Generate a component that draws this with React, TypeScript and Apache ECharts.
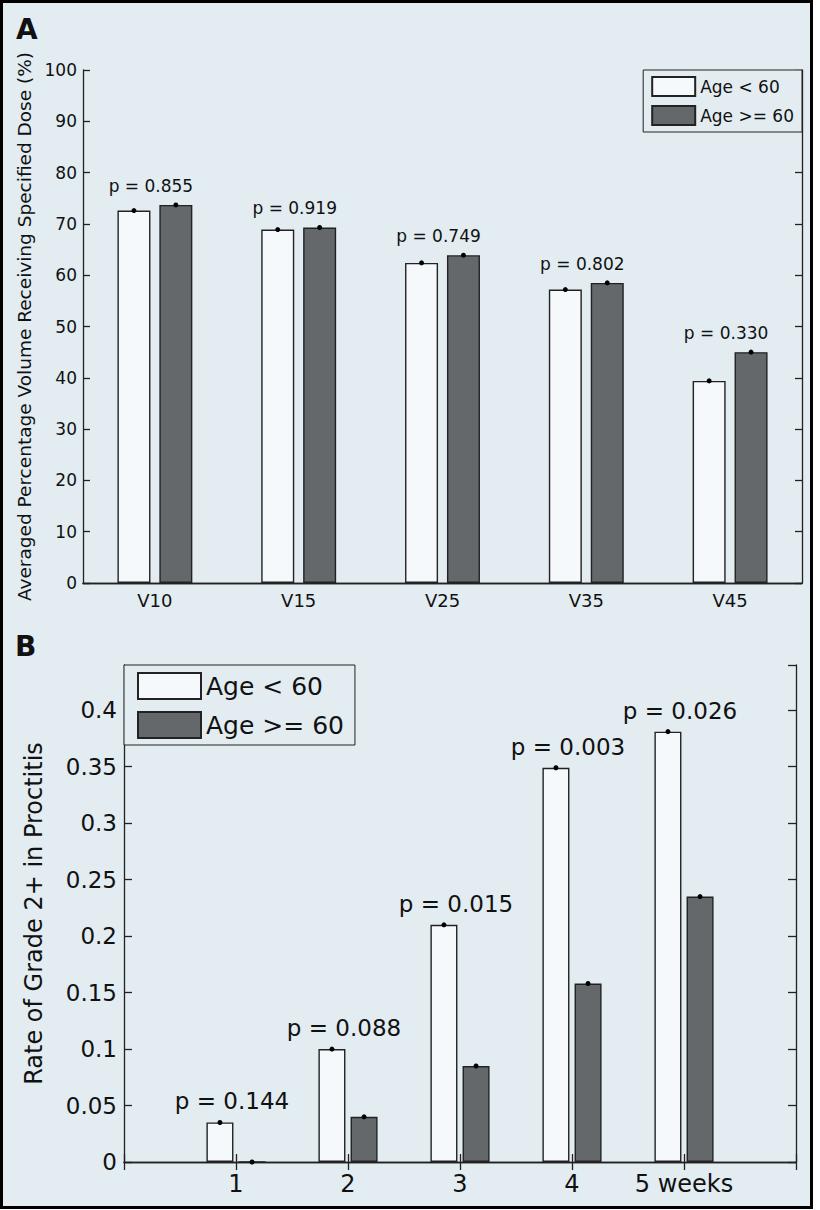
import React, { useEffect, useRef } from 'react';
import * as echarts from 'echarts';

// ---------- data ----------
const groupNames = ['Age < 60', 'Age >= 60'];

const doseCategories = ['V10', 'V15', 'V25', 'V35', 'V45'];
const doseYoung = [72.6, 68.9, 62.4, 57.2, 39.4];
const doseOld = [73.7, 69.3, 63.9, 58.5, 45.0];
const doseP = ['0.855', '0.919', '0.749', '0.802', '0.330'];

const weekCategories = ['1', '2', '3', '4', '5 weeks'];
const rateYoung = [0.035, 0.1, 0.21, 0.349, 0.381];
const rateOld = [0, 0.04, 0.085, 0.158, 0.235];
const rateP = ['0.144', '0.088', '0.015', '0.003', '0.026'];

const titleA = 'Averaged Percentage Volume Receiving Specified Dose (%)';
const titleB = 'Rate of Grade 2+ in Proctitis';

// ---------- style ----------
const BG = '#e2ecf1';
const WHITE_FILL = '#f6f9fb';
const DARK_FILL = '#64686a';
const STROKE = '#222222';
const TEXT = '#111111';
const FONT = 'DejaVu Sans';

export default function App() {
  const ref = useRef<HTMLDivElement>(null);

  useEffect(() => {
    document.body.style.margin = '0';
    if (!ref.current) return;
    const chart = echarts.init(ref.current, undefined, { renderer: 'svg' });

    const weekAxis = ['', ...weekCategories, ''];
    const padB = (arr: number[]) => ['-', ...arr, '-'];
    const maxA = doseYoung.map((v, i) => Math.max(v, doseOld[i]));
    const maxB = rateYoung.map((v, i) => Math.max(v, rateOld[i]));

    const barSeries = (
      name: string,
      data: any[],
      axis: number,
      fill: string,
      barWidth: number,
      barGap: string,
      marks: any[]
    ) => ({
      type: 'bar',
      name,
      data,
      xAxisIndex: axis,
      yAxisIndex: axis,
      barWidth,
      barGap,
      itemStyle: { color: fill, borderColor: STROKE, borderWidth: 1.4 },
      emphasis: { disabled: true },
      markPoint: {
        symbol: 'circle',
        symbolSize: 5,
        silent: true,
        itemStyle: { color: '#000' },
        label: { show: false },
        data: marks,
      },
    });

    const pSeries = (
      axis: number,
      pts: number[][],
      labels: string[],
      fontSize: number,
      distance: number
    ) => ({
      type: 'scatter',
      xAxisIndex: axis,
      yAxisIndex: axis,
      symbolSize: 1,
      itemStyle: { color: 'rgba(0,0,0,0)' },
      silent: true,
      emphasis: { disabled: true },
      data: pts,
      label: {
        show: true,
        position: 'top',
        distance,
        offset: [-4, 0],
        fontSize,
        fontFamily: FONT,
        color: TEXT,
        opacity: 1,
        formatter: (p: any) => 'p = ' + labels[p.dataIndex],
      },
    });

    const lineStyle = { color: STROKE, width: 1.3 };

    const option: any = {
      animation: false,
      backgroundColor: '#ffffff',
      graphic: [
        {
          type: 'rect',
          z: -10,
          silent: true,
          shape: { x: 1.5, y: 1.5, width: 810, height: 1206 },
          style: { fill: BG, stroke: '#000', lineWidth: 3 },
        },
        {
          type: 'text',
          left: 16,
          top: 15,
          style: { text: 'A', font: 'bold 28px "DejaVu Sans"', fill: TEXT },
        },
        {
          type: 'text',
          left: 15,
          top: 632,
          style: { text: 'B', font: 'bold 28px "DejaVu Sans"', fill: TEXT },
        },
      ],
      grid: [
        { left: 83, top: 70, width: 719, height: 513 },
        { left: 124, top: 665, width: 672, height: 497 },
      ],
      legend: [
        {
          data: groupNames,
          orient: 'vertical',
          right: 18,
          top: 70,
          icon: 'rect',
          itemWidth: 43,
          itemHeight: 19,
          itemGap: 8,
          padding: [6, 8, 6, 8],
          backgroundColor: BG,
          borderColor: STROKE,
          borderWidth: 1,
          selectedMode: false,
          textStyle: { fontSize: 17, fontFamily: FONT, color: TEXT },
        },
        {
          data: groupNames,
          orient: 'vertical',
          left: 124,
          top: 665,
          icon: 'rect',
          itemWidth: 63,
          itemHeight: 26,
          itemGap: 11,
          padding: [7, 11, 6, 13],
          backgroundColor: BG,
          borderColor: STROKE,
          borderWidth: 1,
          selectedMode: false,
          textStyle: { fontSize: 25, fontFamily: FONT, color: TEXT },
        },
      ],
      xAxis: [
        {
          type: 'category',
          gridIndex: 0,
          data: doseCategories,
          axisLine: { lineStyle },
          axisTick: { inside: true, length: 7, alignWithLabel: true, lineStyle },
          axisLabel: { fontSize: 18, margin: 8, color: TEXT, fontFamily: FONT },
        },
        {
          type: 'category',
          gridIndex: 0,
          position: 'top',
          data: doseCategories,
          axisLine: { lineStyle },
          axisTick: { inside: true, length: 7, alignWithLabel: true, lineStyle },
          axisLabel: { show: false },
        },
        {
          type: 'category',
          gridIndex: 1,
          data: weekAxis,
          boundaryGap: false,
          axisLine: { lineStyle },
          axisTick: { inside: true, length: 8, lineStyle, interval: 0 },
          axisLabel: { fontSize: 24, margin: 10, color: TEXT, fontFamily: FONT, interval: 0 },
        },
        {
          type: 'category',
          gridIndex: 1,
          position: 'top',
          data: weekAxis,
          boundaryGap: false,
          axisLine: { lineStyle },
          axisTick: { inside: true, length: 8, lineStyle, interval: 0 },
          axisLabel: { show: false },
        },
      ],
      yAxis: [
        {
          type: 'value',
          gridIndex: 0,
          min: 0,
          max: 100,
          interval: 10,
          axisLine: { show: true, lineStyle },
          axisTick: { show: true, inside: true, length: 7, lineStyle },
          splitLine: { show: false },
          axisLabel: { fontSize: 17, margin: 6, color: TEXT, fontFamily: FONT },
          name: titleA,
          nameLocation: 'middle',
          nameGap: 47,
          nameTextStyle: { fontSize: 18.5, fontFamily: FONT, color: TEXT },
        },
        {
          type: 'value',
          gridIndex: 0,
          position: 'right',
          min: 0,
          max: 100,
          interval: 10,
          axisLine: { show: true, lineStyle },
          axisTick: { show: true, inside: true, length: 7, lineStyle },
          splitLine: { show: false },
          axisLabel: { show: false },
        },
        {
          type: 'value',
          gridIndex: 1,
          min: 0,
          max: 0.44,
          interval: 0.05,
          axisLine: { show: true, lineStyle },
          axisTick: { show: true, inside: true, length: 8, lineStyle },
          splitLine: { show: false },
          axisLabel: {
            fontSize: 23,
            margin: 7,
            color: TEXT,
            fontFamily: FONT,
            showMaxLabel: false,
          },
          name: titleB,
          nameLocation: 'middle',
          nameGap: 78,
          nameTextStyle: { fontSize: 24, fontFamily: FONT, color: TEXT },
        },
        {
          type: 'value',
          gridIndex: 1,
          position: 'right',
          min: 0,
          max: 0.44,
          interval: 0.05,
          axisLine: { show: true, lineStyle },
          axisTick: { show: true, inside: true, length: 8, lineStyle },
          splitLine: { show: false },
          axisLabel: { show: false },
        },
      ],
      series: [
        barSeries(groupNames[0], doseYoung, 0, WHITE_FILL, 33, '27%',
          doseYoung.map((v, i) => ({ coord: [i, v] }))),
        barSeries(groupNames[1], doseOld, 0, DARK_FILL, 33, '27%',
          doseOld.map((v, i) => ({ coord: [i, v] }))),
        pSeries(0, maxA.map((v, i) => [i, v]), doseP, 17, 10),
        barSeries(groupNames[0], padB(rateYoung), 2, WHITE_FILL, 27, '19%',
          rateYoung.map((v, i) => ({ coord: [i + 1, v] }))),
        barSeries(groupNames[1], padB(rateOld), 2, DARK_FILL, 27, '19%',
          rateOld.map((v, i) => ({ coord: [i + 1, v] }))),
        pSeries(2, maxB.map((v, i) => [i + 1, v]), rateP, 23, 9),
      ],
    };

    chart.setOption(option);
    return () => chart.dispose();
  }, []);

  return <div ref={ref} style={{ width: 820, height: 1210 }} />;
}
